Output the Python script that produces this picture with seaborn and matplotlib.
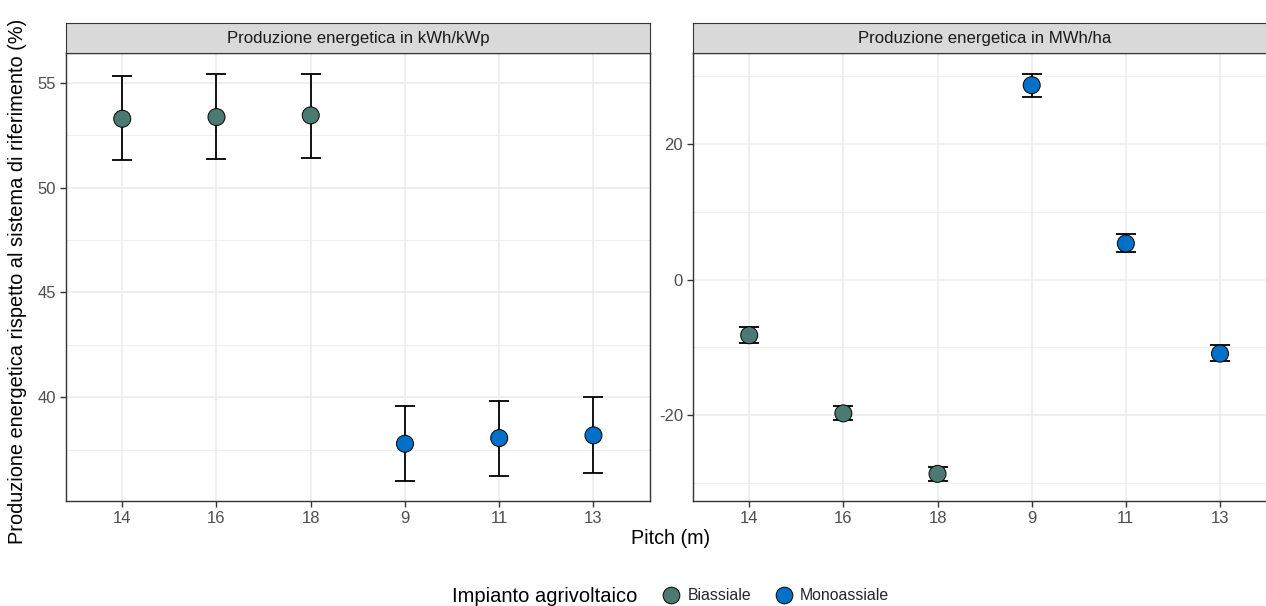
import matplotlib
matplotlib.use("Agg")
import matplotlib.pyplot as plt
from matplotlib.lines import Line2D
import seaborn as sns
import pandas as pd
import numpy as np

# ---- data ----
pitch_labels = ["14", "16", "18", "9", "11", "13"]
impianto = ["Biassiale", "Biassiale", "Biassiale", "Monoassiale", "Monoassiale", "Monoassiale"]

kwh_kwp = [53.28, 53.36, 53.44, 37.79, 38.06, 38.19]
kwh_kwp_low = [51.31, 51.37, 51.42, 36.03, 36.26, 36.39]
kwh_kwp_high = [55.31, 55.40, 55.43, 39.60, 39.84, 40.00]

mwh_ha = [-8.2, -19.7, -28.6, 28.6, 5.3, -10.9]
mwh_ha_low = [-9.4, -20.7, -29.6, 26.9, 4.0, -12.0]
mwh_ha_high = [-7.0, -18.6, -27.6, 30.3, 6.75, -9.7]

facet_titles = ["Produzione energetica in kWh/kWp", "Produzione energetica in MWh/ha"]
left_yticks = [40, 45, 50, 55]
left_yminor = [37.5, 42.5, 47.5, 52.5]
right_yticks = [-20, 0, 20]
right_yminor = [-30, -10, 10, 30]

palette = {"Biassiale": "#4B7A73", "Monoassiale": "#0070C9"}

df1 = pd.DataFrame({"pitch": pitch_labels, "val": kwh_kwp, "lo": kwh_kwp_low,
                    "hi": kwh_kwp_high, "impianto": impianto})
df2 = pd.DataFrame({"pitch": pitch_labels, "val": mwh_ha, "lo": mwh_ha_low,
                    "hi": mwh_ha_high, "impianto": impianto})

sns.set_theme(style="white")
plt.rcParams["font.family"] = ["Liberation Sans", "DejaVu Sans"]

W, H = 1266, 606
fig = plt.figure(figsize=(W / 100, H / 100), dpi=100)

def fx(px):
    return px / W

def fy(py):
    return (H - py) / H

panels = [
    (65.7, 650.0, df1, left_yticks, left_yminor, facet_titles[0]),
    (692.7, 1276.5, df2, right_yticks, right_yminor, facet_titles[1]),
]
top_px, bot_px, strip_top = 53.3, 501.0, 23.0

grid_c = "#EBEBEB"
border_c = "#333333"

for (x0, x1, df, yt, ym, title) in panels:
    ax = fig.add_axes([fx(x0), fy(bot_px), fx(x1 - x0), (bot_px - top_px) / H])
    ax.set_facecolor("white")
    ax.errorbar(df["pitch"], df["val"],
                yerr=[df["val"] - df["lo"], df["hi"] - df["val"]],
                fmt="none", ecolor="black", elinewidth=1.3, capsize=7.2,
                capthick=1.3, zorder=2)
    sns.scatterplot(data=df, x="pitch", y="val", hue="impianto", palette=palette,
                    s=150, edgecolor="black", linewidth=0.7, legend=False,
                    ax=ax, zorder=3)
    vmin, vmax = df["lo"].min(), df["hi"].max()
    pad = (vmax - vmin) * 0.05
    ax.set_ylim(vmin - pad, vmax + pad)
    ax.set_xlim(-0.6, len(pitch_labels) - 1 + 0.6)
    ax.set_yticks(yt)
    ax.set_yticklabels([str(v) for v in yt])
    ax.set_yticks(ym, minor=True)
    ax.grid(True, which="major", color=grid_c, linewidth=1.1, zorder=0)
    ax.grid(True, which="minor", axis="y", color=grid_c, linewidth=0.6, zorder=0)
    ax.set_axisbelow(True)
    for sp in ax.spines.values():
        sp.set_color(border_c)
        sp.set_linewidth(1.0)
    ax.tick_params(axis="both", which="major", length=4, width=1.0, color=border_c,
                   labelcolor="#4D4D4D", labelsize=12, pad=3, direction="out",
                   bottom=True, left=True)
    ax.tick_params(axis="y", which="minor", length=0)
    ax.set_xlabel("")
    ax.set_ylabel("")
    sax = fig.add_axes([fx(x0), fy(top_px), fx(x1 - x0), (top_px - strip_top) / H])
    sax.set_facecolor("#D9D9D9")
    sax.set_xticks([])
    sax.set_yticks([])
    for sp in sax.spines.values():
        sp.set_color(border_c)
        sp.set_linewidth(0.8)
    sax.text(0.5, 0.5, title, ha="center", va="center", fontsize=12.1,
             color="#1A1A1A", transform=sax.transAxes)

fig.text(fx(671), fy(538), "Pitch (m)", ha="center", va="center", fontsize=14.2,
         color="black")
fig.text(fx(18), fy(281), "Produzione energetica rispetto al sistema di riferimento (%)",
         ha="center", va="center", rotation=90, fontsize=14.4, color="black")

# legend
fig.text(fx(452), fy(596), "Impianto agrivoltaico", ha="left", va="center",
         fontsize=14.5, color="black")
handles = [Line2D([0], [0], marker="o", linestyle="none", markersize=12,
                  markerfacecolor=palette[k], markeredgecolor="black",
                  markeredgewidth=0.7, label=k) for k in ["Biassiale", "Monoassiale"]]
fig.legend(handles=handles, loc="center left", bbox_to_anchor=(fx(659), fy(596)),
           ncol=2, frameon=False, fontsize=11.4, handletextpad=0.3,
           columnspacing=1.3, borderaxespad=0, borderpad=0, handlelength=1.5)

fig.savefig("out.png", dpi=100)
